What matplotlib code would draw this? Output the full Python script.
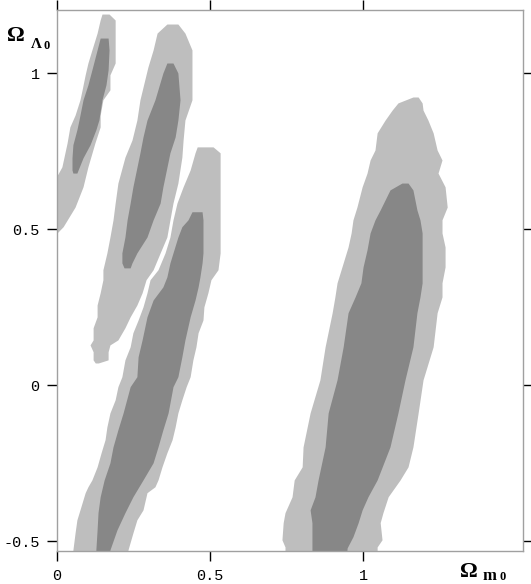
import matplotlib
matplotlib.use("Agg")
import matplotlib.pyplot as plt

# ---- data: contour regions, rows of (Omega_Lambda, left Omega_m, right Omega_m) ----
# Region A (upper left)
a_out_y  = [1.190, 1.171, 1.129, 1.075, 1.033, 0.995, 0.947, 0.915, 0.866, 0.828, 0.777, 0.700, 0.636, 0.571, 0.508, 0.488]
a_out_xl = [0.147, 0.141, 0.131, 0.114, 0.101, 0.092, 0.082, 0.075, 0.059, 0.042, 0.033, 0.016, -0.02, -0.02, -0.02, -0.02]
a_out_xr = [0.170, 0.190, 0.190, 0.190, 0.190, 0.173, 0.173, 0.150, 0.141, 0.141, 0.124, 0.101, 0.085, 0.059, 0.020, 0.000]
a_in_y   = [1.113, 1.075, 1.011, 0.963, 0.915, 0.851, 0.819, 0.771, 0.729, 0.690, 0.680]
a_in_xl  = [0.141, 0.131, 0.114, 0.101, 0.085, 0.072, 0.065, 0.052, 0.049, 0.049, 0.052]
a_in_xr  = [0.167, 0.170, 0.167, 0.160, 0.147, 0.137, 0.127, 0.108, 0.085, 0.069, 0.065]

# Region B (second from left)
b_out_y  = [1.158, 1.129, 1.075, 1.020, 0.915, 0.850, 0.786, 0.731, 0.648, 0.584, 0.530, 0.475, 0.424, 0.370,
            0.338, 0.296, 0.257, 0.219, 0.184, 0.145, 0.129, 0.107, 0.081, 0.071]
b_out_xl = [0.359, 0.327, 0.314, 0.297, 0.271, 0.261, 0.245, 0.222, 0.199, 0.190, 0.183, 0.173, 0.163, 0.150,
            0.150, 0.141, 0.131, 0.131, 0.118, 0.118, 0.108, 0.118, 0.118, 0.125]
b_out_xr = [0.395, 0.418, 0.441, 0.441, 0.441, 0.418, 0.412, 0.408, 0.395, 0.379, 0.369, 0.359, 0.337, 0.314,
            0.291, 0.278, 0.261, 0.239, 0.222, 0.199, 0.173, 0.167, 0.167, 0.135]
b_in_y   = [1.033, 1.001, 0.915, 0.850, 0.796, 0.745, 0.636, 0.584, 0.530, 0.475, 0.424, 0.392, 0.376]
b_in_xl  = [0.359, 0.346, 0.320, 0.294, 0.281, 0.271, 0.248, 0.239, 0.229, 0.222, 0.212, 0.212, 0.219]
b_in_xr  = [0.379, 0.395, 0.402, 0.395, 0.386, 0.369, 0.346, 0.337, 0.314, 0.294, 0.261, 0.245, 0.239]

# Region C (third from left)
c_out_y  = [0.764, 0.745, 0.690, 0.636, 0.584, 0.530, 0.475, 0.424, 0.370, 0.338, 0.296, 0.251, 0.209, 0.168,
            0.123, 0.081, 0.027, -0.005, -0.047, -0.089, -0.134, -0.175, -0.217, -0.262, -0.304, -0.326,
            -0.345, -0.400, -0.432, -0.474, -0.528, -0.560]
c_out_xl = [0.458, 0.451, 0.435, 0.412, 0.392, 0.379, 0.369, 0.353, 0.330, 0.304, 0.294, 0.281, 0.265, 0.248,
            0.239, 0.222, 0.212, 0.199, 0.190, 0.173, 0.163, 0.157, 0.144, 0.131, 0.114, 0.101,
            0.092, 0.075, 0.065, 0.059, 0.052, 0.052]
c_out_xr = [0.510, 0.533, 0.533, 0.533, 0.533, 0.533, 0.533, 0.533, 0.526, 0.503, 0.493, 0.480, 0.477, 0.461,
            0.454, 0.444, 0.435, 0.422, 0.408, 0.395, 0.386, 0.376, 0.359, 0.343, 0.330, 0.320,
            0.294, 0.281, 0.261, 0.248, 0.232, 0.232]
c_in_y   = [0.556, 0.530, 0.508, 0.475, 0.424, 0.392, 0.347, 0.315, 0.273, 0.219, 0.145, 0.091, 0.027, -0.005,
            -0.089, -0.143, -0.198, -0.249, -0.304, -0.358, -0.409, -0.464, -0.528, -0.560]
c_in_xl  = [0.441, 0.428, 0.408, 0.395, 0.379, 0.369, 0.359, 0.346, 0.314, 0.294, 0.278, 0.265, 0.261, 0.239,
            0.216, 0.199, 0.183, 0.173, 0.154, 0.141, 0.134, 0.131, 0.127, 0.127]
c_in_xr  = [0.474, 0.477, 0.477, 0.477, 0.477, 0.474, 0.467, 0.461, 0.451, 0.435, 0.418, 0.408, 0.395, 0.379,
            0.363, 0.346, 0.330, 0.314, 0.281, 0.248, 0.222, 0.196, 0.173, 0.170]

# Region D (large, right)
d_out_y  = [0.924, 0.905, 0.882, 0.850, 0.809, 0.754, 0.722, 0.680, 0.636, 0.571, 0.530, 0.488, 0.443, 0.379,
            0.328, 0.283, 0.232, 0.123, 0.017, -0.089, -0.198, -0.262, -0.304, -0.358, -0.409, -0.441,
            -0.496, -0.519, -0.560]
d_out_xl = [1.163, 1.114, 1.095, 1.072, 1.046, 1.039, 1.023, 1.013, 0.997, 0.980, 0.967, 0.961, 0.951, 0.931,
            0.915, 0.908, 0.899, 0.876, 0.859, 0.827, 0.804, 0.801, 0.775, 0.768, 0.745, 0.739,
            0.735, 0.745, 0.745]
d_out_xr = [1.180, 1.193, 1.196, 1.212, 1.229, 1.242, 1.258, 1.245, 1.268, 1.275, 1.258, 1.258, 1.268, 1.268,
            1.258, 1.258, 1.242, 1.229, 1.196, 1.180, 1.163, 1.147, 1.121, 1.082, 1.065, 1.056,
            1.062, 1.046, 1.046]
d_in_y   = [0.648, 0.626, 0.562, 0.530, 0.488, 0.434, 0.379, 0.328, 0.283, 0.232, 0.123, 0.017, -0.089, -0.198,
            -0.304, -0.358, -0.400, -0.441, -0.486, -0.522, -0.560]
d_in_xl  = [1.127, 1.088, 1.056, 1.039, 1.023, 1.013, 1.000, 0.993, 0.974, 0.951, 0.935, 0.915, 0.886, 0.876,
            0.853, 0.843, 0.827, 0.833, 0.833, 0.833, 0.833]
d_in_xr  = [1.147, 1.163, 1.176, 1.186, 1.193, 1.193, 1.193, 1.193, 1.186, 1.176, 1.163, 1.137, 1.114, 1.088,
            1.046, 1.016, 0.997, 0.984, 0.967, 0.948, 0.945]

x_ticks = [0, 0.5, 1]
x_tick_labels = ["0", "0.5", "1"]
y_ticks = [-0.5, 0, 0.5, 1]
y_tick_labels = ["-0.5", "0", "0.5", "1"]

LIGHT = "#bebebe"
DARK = "#878787"

W, H = 531, 584
fig = plt.figure(figsize=(W / 100, H / 100), dpi=100)
ax = fig.add_axes([57 / W, (H - 550.7) / H, (522.5 - 57) / W, (550.7 - 10.3) / H])

outer = [(a_out_y, a_out_xl, a_out_xr), (b_out_y, b_out_xl, b_out_xr),
         (c_out_y, c_out_xl, c_out_xr), (d_out_y, d_out_xl, d_out_xr)]
inner = [(a_in_y, a_in_xl, a_in_xr), (b_in_y, b_in_xl, b_in_xr),
         (c_in_y, c_in_xl, c_in_xr), (d_in_y, d_in_xl, d_in_xr)]
for yy, xl, xr in outer:
    ax.fill_betweenx(yy, xl, xr, color=LIGHT, lw=0)
for yy, xl, xr in inner:
    ax.fill_betweenx(yy, xl, xr, color=DARK, lw=0)

ax.set_xlim(0, 1.521)
ax.set_ylim(-0.531, 1.202)

ax.set_xticks(x_ticks)
ax.set_xticklabels(x_tick_labels, fontfamily="Liberation Mono", fontsize=11)
ax.set_yticks(y_ticks)
ax.set_yticklabels(y_tick_labels, fontfamily="Liberation Mono", fontsize=11)
ax.tick_params(axis="both", direction="out", length=7.5, width=1.0, color="black",
               top=True, right=True, labeltop=False, labelright=False)
ax.tick_params(axis="x", pad=6)
ax.tick_params(axis="y", pad=5)
for s in ax.spines.values():
    s.set_color("#a0a0a0")
    s.set_linewidth(1.0)

serif = "Liberation Serif"
# Omega_Lambda0 label (top-left)
fig.text(7 / W, 1 - 41 / H, "Ω", fontsize=16, fontweight="bold", family=serif, va="baseline")
fig.text(31 / W, 1 - 48 / H, "Λ", fontsize=11, fontweight="bold", family=serif, va="baseline")
fig.text(43 / W, 1 - 49 / H, "0", fontsize=9, fontweight="bold", family=serif, va="baseline")
# Omega_m0 label (bottom-right)
fig.text(460 / W, 1 - 577 / H, "Ω", fontsize=16, fontweight="bold", family=serif, va="baseline")
fig.text(483 / W, 1 - 580 / H, "m", fontsize=12, fontweight="bold", family=serif, va="baseline")
fig.text(500 / W, 1 - 580 / H, "0", fontsize=9, fontweight="bold", family=serif, va="baseline")

fig.savefig("out.png", dpi=100)
